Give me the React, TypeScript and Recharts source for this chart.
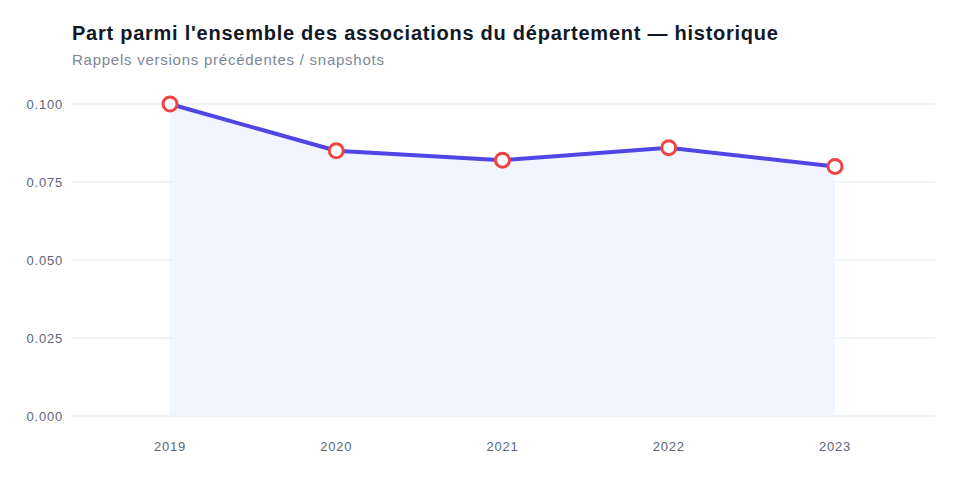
import { AreaChart, Area, XAxis, YAxis, CartesianGrid } from "recharts";

const years = ["2019", "2020", "2021", "2022", "2023"];
const shares = [0.1, 0.085, 0.082, 0.086, 0.08];
const yTicks = [0, 0.025, 0.05, 0.075, 0.1];

const data = years.map((year, i) => ({ year, share: shares[i] }));

const FONT = "'Liberation Sans', Arial, Helvetica, sans-serif";
const tickStyle = { fill: "#5b6578", fontSize: 13, fontFamily: FONT, letterSpacing: 0.8 };

export default function App() {
  return (
    <div
      style={{
        position: "fixed",
        top: 0,
        left: 0,
        width: 960,
        height: 480,
        background: "#ffffff",
        fontFamily: FONT,
      }}
    >
      <div
        style={{
          position: "absolute",
          left: 72,
          top: 22,
          fontSize: 20,
          lineHeight: "normal",
          fontWeight: 700,
          letterSpacing: 0.75,
          color: "#111827",
          whiteSpace: "nowrap",
        }}
      >
        Part parmi l'ensemble des associations du département — historique
      </div>
      <div
        style={{
          position: "absolute",
          left: 72,
          top: 51,
          fontSize: 15,
          lineHeight: "normal",
          letterSpacing: 0.75,
          color: "#7b8698",
          whiteSpace: "nowrap",
        }}
      >
        Rappels versions précédentes / snapshots
      </div>
      <div style={{ position: "absolute", left: 0, top: 0 }}>
        <AreaChart
          width={960}
          height={480}
          data={data}
          margin={{ top: 104, right: 25, left: 0, bottom: 34 }}
        >
          <CartesianGrid vertical={false} stroke="#f1f4f9" strokeWidth={2} />
          <XAxis
            dataKey="year"
            axisLine={false}
            tickLine={false}
            tickMargin={20}
            padding={{ left: 98, right: 100 }}
            tick={tickStyle}
          />
          <YAxis
            width={72}
            domain={[0, 0.1]}
            ticks={yTicks}
            axisLine={false}
            tickLine={false}
            tickMargin={3}
            tickFormatter={(v: number) => v.toFixed(3)}
            tick={tickStyle}
          />
          <Area
            type="linear"
            dataKey="share"
            stroke="#4f46e5"
            strokeWidth={4}
            fill="#eef2ff"
            fillOpacity={0.8}
            dot={{
              r: 7,
              stroke: "#ef4444",
              strokeWidth: 3,
              fill: "#ffffff",
              fillOpacity: 1,
            }}
            activeDot={false}
            isAnimationActive={false}
          />
        </AreaChart>
      </div>
    </div>
  );
}
